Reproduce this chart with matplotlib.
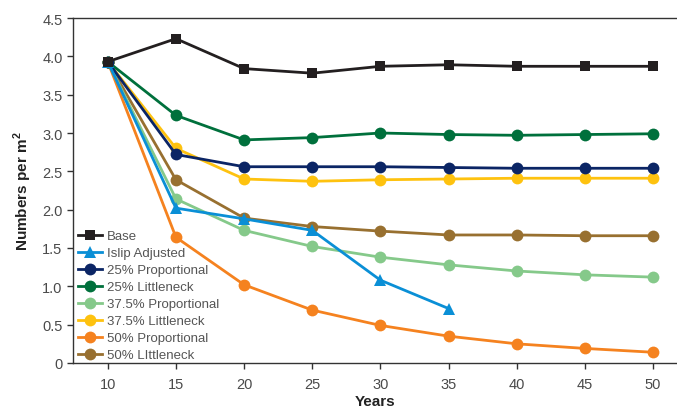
import matplotlib
matplotlib.use("Agg")
import matplotlib.pyplot as plt
from matplotlib.ticker import FuncFormatter

plt.rcParams['font.family'] = ['Liberation Sans Narrow', 'Liberation Sans', 'DejaVu Sans']

years = [10, 15, 20, 25, 30, 35, 40, 45, 50]
years_islip = [10, 15, 20, 25, 30, 35]

base = [3.93, 4.23, 3.84, 3.78, 3.87, 3.89, 3.87, 3.87, 3.87]
islip = [3.93, 2.02, 1.88, 1.73, 1.08, 0.71]
prop25 = [3.93, 2.72, 2.56, 2.56, 2.56, 2.55, 2.54, 2.54, 2.54]
little25 = [3.93, 3.23, 2.91, 2.94, 3.00, 2.98, 2.97, 2.98, 2.99]
prop375 = [3.93, 2.14, 1.73, 1.52, 1.38, 1.28, 1.20, 1.15, 1.12]
little375 = [3.93, 2.80, 2.40, 2.37, 2.39, 2.40, 2.41, 2.41, 2.41]
prop50 = [3.93, 1.64, 1.02, 0.69, 0.49, 0.35, 0.25, 0.19, 0.14]
little50 = [3.93, 2.39, 1.89, 1.78, 1.72, 1.67, 1.67, 1.66, 1.66]

labels = ["Base", "Islip Adjusted", "25% Proportional", "25% Littleneck",
          "37.5% Proportional", "37.5% Littleneck", "50% Proportional", "50% LIttleneck"]
colors = ["#231f20", "#0a8fd6", "#0b2565", "#00703c", "#85c98a", "#fec20f", "#f5821f", "#987030"]

fig = plt.figure(figsize=(6.77, 4.14), dpi=100)
ax = fig.add_axes([73/677, 1 - 364/414, 1 - 73/677, (364 - 19)/414])

series = [(years, base, 's'), (years_islip, islip, '^'), (years, prop25, 'o'),
          (years, little25, 'o'), (years, prop375, 'o'), (years, little375, 'o'),
          (years, prop50, 'o'), (years, little50, 'o')]

sizes = {'s': 7.5, '^': 9, 'o': 8.5}
order = [6, 4, 1, 7, 5, 2, 3, 0]
handles = [None] * 8
for i in order:
    x, y, m = series[i]
    h, = ax.plot(x, y, color=colors[i], marker=m, markersize=sizes[m], linewidth=2,
                 markeredgewidth=0, label=labels[i], zorder=3 + (8 - i) * 0.01)
    handles[i] = h

ax.set_xlim(7.45, 51.75)
ax.set_ylim(0, 4.5)
ax.set_xticks(years)
ax.set_yticks([0, 0.5, 1.0, 1.5, 2.0, 2.5, 3.0, 3.5, 4.0, 4.5])
ax.yaxis.set_major_formatter(FuncFormatter(lambda v, p: "0" if v == 0 else f"{v:.1f}"))
ax.tick_params(axis='both', direction='out', length=4, width=1, colors='#333333',
               labelcolor='#4a4a4a', labelsize=10.5)
ax.tick_params(axis='x', pad=6)
for s in ['left', 'bottom', 'top']:
    ax.spines[s].set_color('#333333')
    ax.spines[s].set_linewidth(1)
ax.spines['right'].set_visible(False)

ax.set_xlabel("Years", fontsize=11, fontweight='bold', color='#222222', labelpad=2)
ax.set_ylabel("Numbers per m$^\\mathregular{2}$", fontsize=11, fontweight='bold',
              color='#222222', labelpad=6)

leg = ax.legend(handles=handles, labels=labels, loc='upper left',
                bbox_to_anchor=(78/677, 1 - 231/414), bbox_transform=fig.transFigure,
                frameon=False, fontsize=9.5, handlelength=1.8, handletextpad=0.4,
                labelspacing=0.36, borderpad=0, borderaxespad=0)
for t in leg.get_texts():
    t.set_color('#555555')

fig.savefig("out.png", dpi=100)
